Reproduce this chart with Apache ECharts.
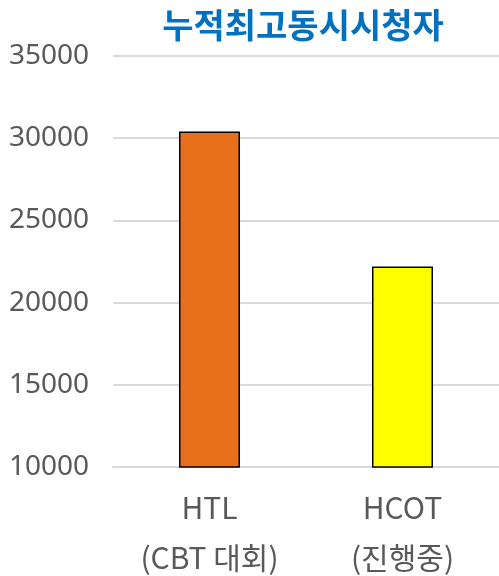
<!DOCTYPE html>
<html>
<head>
<meta charset="utf-8">
<script src="https://cdn.jsdelivr.net/npm/echarts@6/dist/echarts.min.js"></script>
<style>
  html, body { margin: 0; padding: 0; background: #fff; }
  #chart { width: 499px; height: 576px; }
</style>
</head>
<body>
<div id="chart"></div>
<script>
var categories = ["HTL\n(CBT 대회)", "HCOT\n(진행중)"];
var viewers = [30400, 22200];
var barColors = ["#E8701A", "#FFFF00"];
var yTicks = [10000, 15000, 20000, 25000, 30000, 35000];

var myChart = echarts.init(document.getElementById("chart"));

var option = {
    animation: false,
    title: {
        text: "누적최고동시시청자",
        left: 298, top: 3, textAlign: "center",
        textStyle: { color: "#0070C0", fontSize: 34, fontWeight: "bold", fontFamily: "Noto Sans CJK KR" }
    },
    grid: { left: 113, right: 0, top: 56, bottom: 109, outerBoundsMode: "none", containLabel: false },
    xAxis: {
        type: "category",
        data: categories,
        axisLine: { lineStyle: { color: "#d9d9d9", width: 2 } },
        axisTick: { show: false },
        axisLabel: {
            color: "#595959", fontSize: 30, lineHeight: 50, margin: 16,
            fontFamily: "Noto Sans CJK KR"
        }
    },
    yAxis: {
        type: "value",
        min: yTicks[0],
        max: yTicks[yTicks.length - 1],
        interval: 5000,
        axisLine: { show: false },
        axisTick: { show: false },
        splitLine: { lineStyle: { color: "#d9d9d9", width: 2 } },
        axisLabel: {
            color: "#595959", fontSize: 28, margin: 24, fontFamily: "Noto Sans",
            formatter: function (v) { return String(v); }
        }
    },
    series: [{
        type: "bar",
        barWidth: "31.6%",
        data: viewers.map(function (v, i) {
            return { value: v, itemStyle: { color: barColors[i] } };
        }),
        itemStyle: { borderColor: "#000", borderWidth: 1.5 }
    }]
};

myChart.setOption(option);
</script>
</body>
</html>
